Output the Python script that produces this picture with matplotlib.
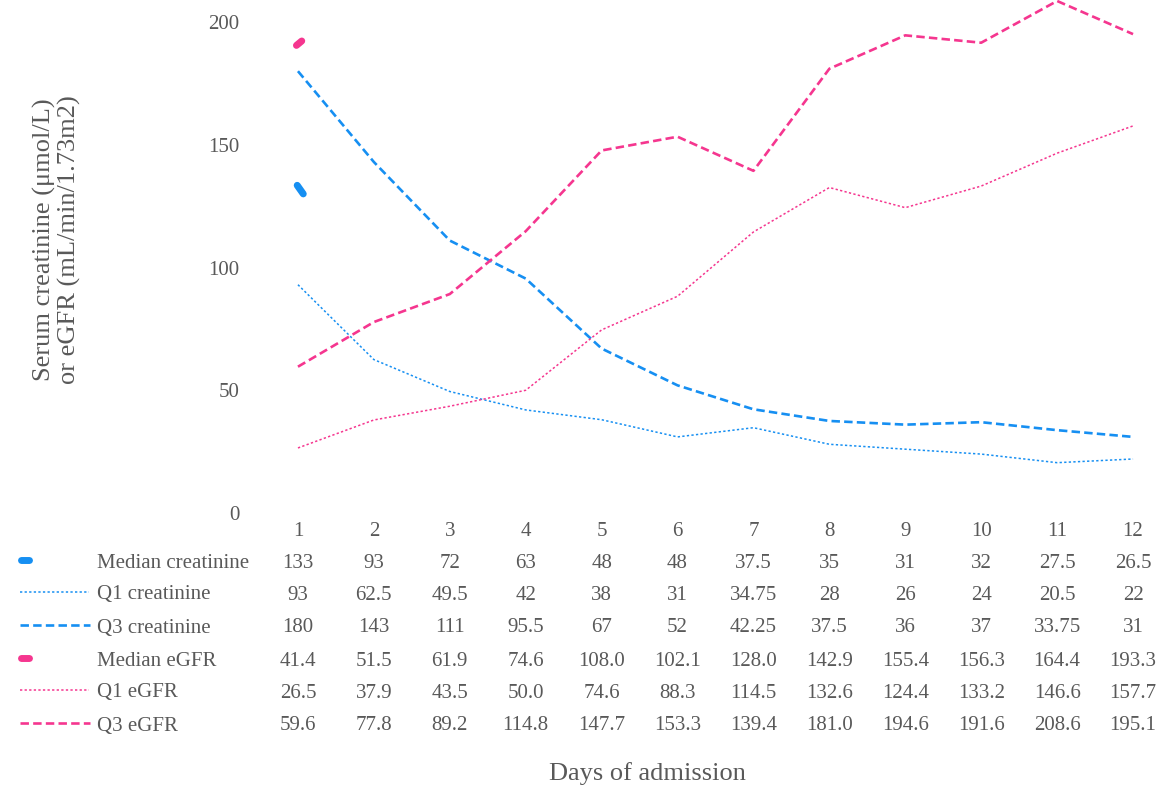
import matplotlib.pyplot as plt
import numpy as np
from matplotlib.transforms import blended_transform_factory

plt.rcParams['font.family'] = ['Liberation Serif', 'DejaVu Serif']

days = np.arange(1, 13)
median_creat = [133, 93, 72, 63, 48, 48, 37.5, 35, 31, 32, 27.5, 26.5]
q1_creat = [93, 62.5, 49.5, 42, 38, 31, 34.75, 28, 26, 24, 20.5, 22]
q3_creat = [180, 143, 111, 95.5, 67, 52, 42.25, 37.5, 36, 37, 33.75, 31]
median_egfr = [41.4, 51.5, 61.9, 74.6, 108.0, 102.1, 128.0, 142.9, 155.4, 156.3, 164.4, 193.3]
q1_egfr = [26.5, 37.9, 43.5, 50.0, 74.6, 88.3, 114.5, 132.6, 124.4, 133.2, 146.6, 157.7]
q3_egfr = [59.6, 77.8, 89.2, 114.8, 147.7, 153.3, 139.4, 181.0, 194.6, 191.6, 208.6, 195.1]

# table text as printed in the chart
creat_fmt = ['133', '93', '72', '63', '48', '48', '37.5', '35', '31', '32', '27.5', '26.5']
q1_creat_fmt = ['93', '62.5', '49.5', '42', '38', '31', '34.75', '28', '26', '24', '20.5', '22']
q3_creat_fmt = ['180', '143', '111', '95.5', '67', '52', '42.25', '37.5', '36', '37', '33.75', '31']

blue = '#168ff2'
pink = '#f5368f'
grey = '#595959'

W, H = 1169, 789
fig = plt.figure(figsize=(W / 100, H / 100), dpi=100)
ax = fig.add_axes([260 / W, 1 - 513 / H, 911 / W, 513 / H])
ax.set_xlim(0.5, 12.5)
ax.set_ylim(0, 209)
for s in ax.spines.values():
    s.set_visible(False)

ax.plot(days, q1_creat, color=blue, lw=1.1, ls=(0, (1.5, 1.5)), clip_on=False)
ax.plot(days, q3_creat, color=blue, lw=1.9, ls=(0, (3.2, 1.6)), clip_on=False)
ax.plot(days, q1_egfr, color=pink, lw=1.1, ls=(0, (1.5, 1.5)), clip_on=False)
ax.plot(days, q3_egfr, color=pink, lw=1.9, ls=(0, (3.2, 1.6)), clip_on=False)

# median series only show up as small stubs at day 1 in the original
ax.plot([0.99, 1.07], [median_creat[0] + 0.5, median_creat[0] - 3.0], color=blue,
        lw=5, solid_capstyle='round', clip_on=False)
ax.plot([0.98, 1.05], [190.5, 192.3], color=pink, lw=5, solid_capstyle='round', clip_on=False)

ax.set_yticks([0, 50, 100, 150, 200])
ax.tick_params(axis='y', length=0, pad=15, labelsize=15, labelcolor=grey)
ax.set_xticks([])

fy = lambda py: 1 - py / H
fig.text(57 / W, fy(240), 'Serum creatinine (μmol/L)\nor eGFR (mL/min/1.73m2)', rotation=90,
         ha='center', va='center', multialignment='center', fontsize=19, color=grey,
         linespacing=1.1)

# data table
tr = blended_transform_factory(ax.transData, fig.transFigure)
off = 3
for d in days:
    fig.text(d, fy(529 + off), str(d), transform=tr, ha='center', va='center', fontsize=15, color=grey)

rows = [
    ('Median creatinine', creat_fmt, blue, 'median'),
    ('Q1 creatinine', q1_creat_fmt, blue, 'dot'),
    ('Q3 creatinine', q3_creat_fmt, blue, 'dash'),
    ('Median eGFR', ['%.1f' % v for v in median_egfr], pink, 'median'),
    ('Q1 eGFR', ['%.1f' % v for v in q1_egfr], pink, 'dot'),
    ('Q3 eGFR', ['%.1f' % v for v in q3_egfr], pink, 'dash'),
]
row_y = [560, 592, 625, 658, 690, 723]
for (name, vals, col, kind), py in zip(rows, row_y):
    y = fy(py + off)
    fig.text(97 / W, y, name, ha='left', va='center', fontsize=15, color=grey)
    for d, v in zip(days, vals):
        fig.text(d, y, v, transform=tr, ha='center', va='center', fontsize=15, color=grey)
    ly = fy(py)
    if kind == 'median':
        fig.add_artist(plt.Line2D([21 / W, 29 / W], [ly, ly], color=col, lw=5,
                                  solid_capstyle='round'))
    elif kind == 'dot':
        fig.add_artist(plt.Line2D([20 / W, 89 / W], [ly, ly], color=col, lw=1.1,
                                  ls=(0, (1.5, 1.5))))
    else:
        fig.add_artist(plt.Line2D([20 / W, 90 / W], [ly, ly], color=col, lw=1.9,
                                  ls=(0, (3.2, 1.6))))

fig.text(647 / W, fy(774), 'Days of admission', ha='center', va='center', fontsize=19, color=grey)

fig.savefig('out.png', dpi=100)
